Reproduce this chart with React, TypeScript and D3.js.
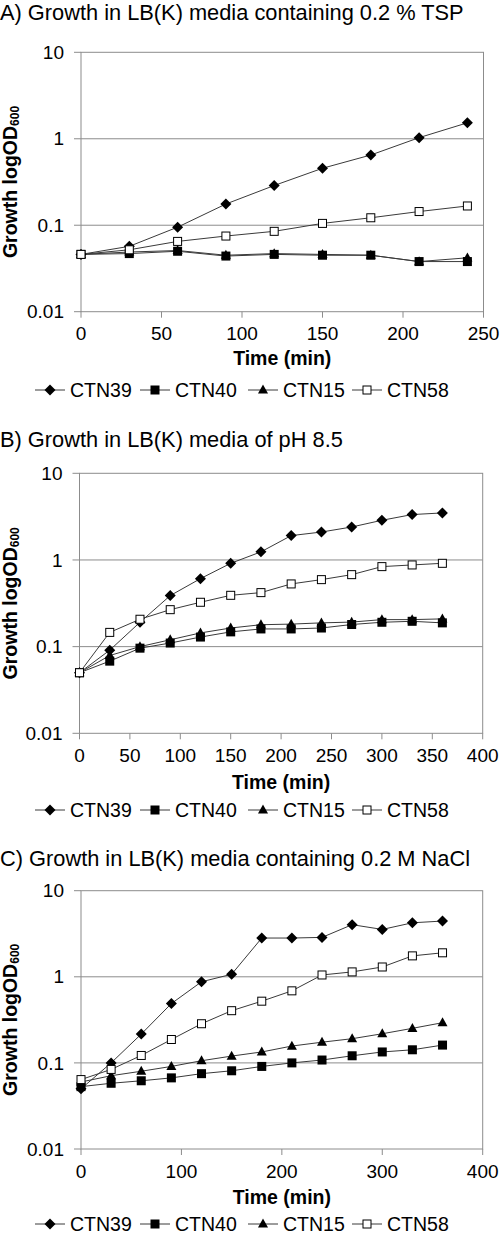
import React from "react";
import * as d3 from "d3";

const seriesNames = ["CTN39", "CTN40", "CTN15", "CTN58"];
const markerTypes = ["diamond", "square", "triangle", "open"];

const timesA = [0, 30, 60, 90, 120, 150, 180, 210, 240];
const a39 = [0.046, 0.057, 0.095, 0.176, 0.288, 0.456, 0.649, 1.03, 1.53];
const a40 = [0.046, 0.047, 0.05, 0.044, 0.046, 0.045, 0.045, 0.038, 0.038];
const a15 = [0.046, 0.049, 0.051, 0.045, 0.047, 0.046, 0.045, 0.038, 0.042];
const a58 = [0.046, 0.052, 0.065, 0.075, 0.085, 0.105, 0.122, 0.144, 0.167];

const timesBC = [0, 30, 60, 90, 120, 150, 180, 210, 240, 270, 300, 330, 360];
const b39 = [0.05, 0.091, 0.191, 0.388, 0.609, 0.915, 1.24, 1.91, 2.1, 2.4, 2.87, 3.34, 3.49];
const b40 = [0.05, 0.068, 0.096, 0.11, 0.129, 0.148, 0.16, 0.16, 0.164, 0.18, 0.191, 0.196, 0.188];
const b15 = [0.05, 0.079, 0.1, 0.12, 0.144, 0.164, 0.179, 0.182, 0.188, 0.192, 0.205, 0.205, 0.209];
const b58 = [0.05, 0.146, 0.207, 0.267, 0.325, 0.391, 0.42, 0.529, 0.593, 0.677, 0.838, 0.876, 0.915];

const c39 = [0.05, 0.1, 0.216, 0.489, 0.875, 1.07, 2.82, 2.82, 2.87, 4.03, 3.55, 4.24, 4.44];
const c40 = [0.053, 0.058, 0.062, 0.067, 0.075, 0.081, 0.091, 0.1, 0.108, 0.121, 0.134, 0.142, 0.161];
const c15 = [0.06, 0.071, 0.08, 0.091, 0.106, 0.12, 0.134, 0.157, 0.174, 0.191, 0.218, 0.252, 0.293];
const c58 = [0.064, 0.084, 0.122, 0.187, 0.285, 0.404, 0.521, 0.687, 1.05, 1.14, 1.3, 1.75, 1.9];

const yTicks = [0.01, 0.1, 1, 10];
const yTickLabels = ["0.01", "0.1", "1", "10"];
const xTicksA = [0, 50, 100, 150, 200, 250];
const xTicksB = [0, 50, 100, 150, 200, 250, 300, 350, 400];
const xTicksC = [0, 100, 200, 300, 400];

const titles = [
  "A) Growth in LB(K) media containing 0.2 % TSP",
  "B) Growth in LB(K) media of pH 8.5",
  "C) Growth in LB(K) media containing 0.2 M NaCl",
];

const FONT = "'Liberation Sans', Arial, Helvetica, sans-serif";
const GRID = "#8c8c8c";
const LINE = "#3a3a3a";

function Marker({ type, x, y }: { type: string; x: number; y: number }) {
  if (type === "diamond") {
    const r = 5.5;
    return <path d={`M${x},${y - r}L${x + r},${y}L${x},${y + r}L${x - r},${y}Z`} fill="#000" />;
  }
  if (type === "square") {
    const s = 9;
    return <rect x={x - s / 2} y={y - s / 2} width={s} height={s} fill="#000" />;
  }
  if (type === "triangle") {
    const w = 10, h = 9;
    return <path d={`M${x},${y - h * 0.6}L${x + w / 2},${y + h * 0.4}L${x - w / 2},${y + h * 0.4}Z`} fill="#000" />;
  }
  const s = 8;
  return <rect x={x - s / 2} y={y - s / 2} width={s} height={s} fill="#fff" stroke="#000" strokeWidth={1} />;
}

type PanelProps = {
  title: string;
  titleY: number;
  left: number;
  right: number;
  top: number;
  bottom: number;
  xMax: number;
  xTicks: number[];
  times: number[];
  series: number[][];
  tickLabelY: number;
  xTitleY: number;
  legendY: number;
};

function Panel(p: PanelProps) {
  const x = d3.scaleLinear().domain([0, p.xMax]).range([p.left, p.right]);
  const y = d3.scaleLog().domain([0.01, 10]).range([p.bottom, p.top]);
  const line = d3
    .line<number>()
    .x((_, i) => x(p.times[i]))
    .y((v) => y(v));
  const midY = (p.top + p.bottom) / 2;
  const legendMarkers = [50, 155, 263, 367];
  return (
    <g>
      <text x={0} y={p.titleY} fontSize={21.8} fontFamily={FONT} fill="#000">
        {p.title}
      </text>
      {yTicks.slice(1, 3).map((t) => (
        <line key={t} x1={p.left} x2={p.right} y1={y(t)} y2={y(t)} stroke={GRID} strokeWidth={1} />
      ))}
      <rect
        x={p.left}
        y={p.top}
        width={p.right - p.left}
        height={p.bottom - p.top}
        fill="none"
        stroke={GRID}
        strokeWidth={1}
      />
      {yTicks.map((t, i) => (
        <g key={t}>
          <line x1={p.left - 7} x2={p.left} y1={y(t)} y2={y(t)} stroke={GRID} />
          <text
            x={p.left - 17}
            y={y(t)}
            dy="0.35em"
            textAnchor="end"
            fontSize={19}
            fontFamily={FONT}
          >
            {yTickLabels[i]}
          </text>
        </g>
      ))}
      {p.xTicks.map((t) => (
        <g key={t}>
          <line x1={x(t)} x2={x(t)} y1={p.bottom} y2={p.bottom + 6} stroke={GRID} />
          <text x={x(t)} y={p.tickLabelY} dy="0.35em" textAnchor="middle" fontSize={19} fontFamily={FONT}>
            {t}
          </text>
        </g>
      ))}
      <text
        x={(p.left + p.right) / 2}
        y={p.xTitleY}
        dy="0.35em"
        textAnchor="middle"
        fontSize={19.5}
        fontWeight="bold"
        fontFamily={FONT}
      >
        Time (min)
      </text>
      <text
        transform={`translate(16.5,${midY}) rotate(-90)`}
        textAnchor="middle"
        fontSize={19.5}
        fontWeight="bold"
        fontFamily={FONT}
      >
        Growth logOD
        <tspan fontSize={12} dy={2}>
          600
        </tspan>
      </text>
      {p.series.map((s, si) => (
        <path key={si} d={line(s) || ""} fill="none" stroke={LINE} strokeWidth={1} />
      ))}
      {p.series.map((s, si) => (
        <g key={si}>
          {s.map((v, i) => (
            <Marker key={i} type={markerTypes[si]} x={x(p.times[i])} y={y(v)} />
          ))}
        </g>
      ))}
      {seriesNames.map((n, i) => (
        <g key={n}>
          <line
            x1={legendMarkers[i] - 15}
            x2={legendMarkers[i] + 15}
            y1={p.legendY}
            y2={p.legendY}
            stroke={LINE}
          />
          <Marker type={markerTypes[i]} x={legendMarkers[i]} y={p.legendY} />
          <text x={legendMarkers[i] + 20} y={p.legendY} dy="0.35em" fontSize={19.5} fontFamily={FONT}>
            {n}
          </text>
        </g>
      ))}
    </g>
  );
}

export default function App() {
  return (
    <svg
      width={500}
      height={1235}
      style={{ position: "absolute", left: 0, top: 0, background: "#fff" }}
    >
      <rect width={500} height={1235} fill="#fff" />
      <Panel
        title={titles[0]}
        titleY={19.5}
        left={81}
        right={483.5}
        top={52.3}
        bottom={311.7}
        xMax={250}
        xTicks={xTicksA}
        times={timesA}
        series={[a39, a40, a15, a58]}
        tickLabelY={333}
        xTitleY={358}
        legendY={390}
      />
      <Panel
        title={titles[1]}
        titleY={446.8}
        left={79.5}
        right={482.7}
        top={473.3}
        bottom={733.3}
        xMax={400}
        xTicks={xTicksB}
        times={timesBC}
        series={[b39, b40, b15, b58]}
        tickLabelY={755}
        xTitleY={781.7}
        legendY={810}
      />
      <Panel
        title={titles[2]}
        titleY={865.8}
        left={81}
        right={482.7}
        top={890.7}
        bottom={1149}
        xMax={400}
        xTicks={xTicksC}
        times={timesBC}
        series={[c39, c40, c15, c58]}
        tickLabelY={1171.7}
        xTitleY={1196.7}
        legendY={1224}
      />
    </svg>
  );
}
